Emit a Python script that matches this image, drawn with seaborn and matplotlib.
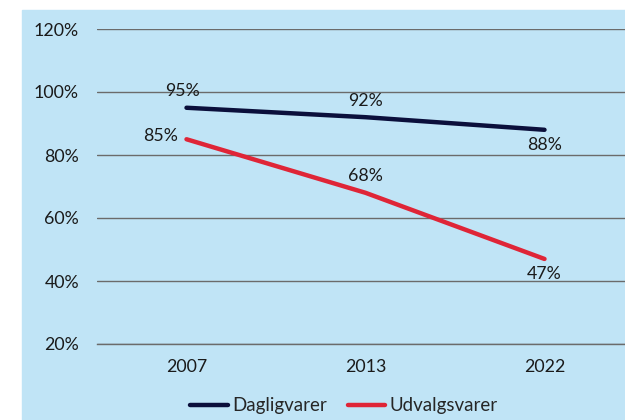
import pandas as pd
import numpy as np
import seaborn as sns
import matplotlib.pyplot as plt
from matplotlib.patches import Rectangle
from matplotlib.ticker import FixedLocator

# data
years = ["2007", "2013", "2022"]
dagligvarer = [95, 92, 88]
udvalgsvarer = [85, 68, 47]
series_names = ["Dagligvarer", "Udvalgsvarer"]
y_ticks = [20, 40, 60, 80, 100, 120]

df = pd.DataFrame({
    "year": years * 2,
    "value": dagligvarer + udvalgsvarer,
    "serie": [series_names[0]] * 3 + [series_names[1]] * 3,
})

sns.set_style("white")
plt.rcParams["font.family"] = ["Lato", "DejaVu Sans"]

bg = "#C0E4F6"
colors = {"Dagligvarer": "#0B0F3B", "Udvalgsvarer": "#DF2537"}
txt = "#1a1a1a"
fs = 12.8

fig = plt.figure(figsize=(6.25, 4.2), dpi=100, facecolor="white")
fig.patches.append(Rectangle((22 / 625, 0), 1, (420 - 10) / 420,
                             transform=fig.transFigure, color=bg, zorder=-1))
ax = fig.add_axes([97 / 625, 1 - 344 / 420, 537 / 625, 315 / 420])
ax.set_facecolor(bg)

sns.lineplot(data=df, x="year", y="value", hue="serie", palette=colors,
             linewidth=3.2, ax=ax, sort=False)

ax.set_xlim(-0.5, 2.5)
ax.set_ylim(20, 120)
ax.set_yticks(y_ticks)
ax.set_yticklabels([f"{v}%" for v in y_ticks])
ax.yaxis.grid(True, color="#6b6b6b", linewidth=1)
ax.set_axisbelow(True)
ax.xaxis.set_minor_locator(FixedLocator([-0.5, 0.5, 1.5, 2.5]))
ax.tick_params(axis="x", which="major", length=0, pad=11, labelsize=fs, colors=txt)
ax.tick_params(axis="x", which="minor", length=5, width=1, color="#6b6b6b", direction="out")
ax.tick_params(axis="y", length=0, pad=13, labelsize=fs, colors=txt)
for s in ["top", "right", "left"]:
    ax.spines[s].set_visible(False)
ax.spines["bottom"].set_color("#6b6b6b")
ax.spines["bottom"].set_linewidth(1)
ax.set_xlabel("")
ax.set_ylabel("")

# data labels
for i, v in enumerate(dagligvarer):
    if i == 0:
        ax.annotate(f"{v}%", (i, v), xytext=(-3, 6), textcoords="offset points",
                    ha="center", va="bottom", fontsize=fs, color=txt)
    elif i == 1:
        ax.annotate(f"{v}%", (i, v), xytext=(0, 6), textcoords="offset points",
                    ha="center", va="bottom", fontsize=fs, color=txt)
    else:
        ax.annotate(f"{v}%", (i, v), xytext=(0, -5), textcoords="offset points",
                    ha="center", va="top", fontsize=fs, color=txt)
for i, v in enumerate(udvalgsvarer):
    if i == 0:
        ax.annotate(f"{v}%", (i, v), xytext=(-6, 2), textcoords="offset points",
                    ha="right", va="center", fontsize=fs, color=txt)
    elif i == 1:
        ax.annotate(f"{v}%", (i, v), xytext=(0, 6), textcoords="offset points",
                    ha="center", va="bottom", fontsize=fs, color=txt)
    else:
        ax.annotate(f"{v}%", (i, v), xytext=(0, -5), textcoords="offset points",
                    ha="center", va="top", fontsize=fs, color=txt)

handles, labels = ax.get_legend_handles_labels()
ax.get_legend().remove()
fig.legend(handles, labels, loc="center", bbox_to_anchor=(344 / 625, 1 - 406 / 420),
           ncol=2, frameon=False, fontsize=13.5, handlelength=2.0, handletextpad=0.25,
           columnspacing=1.1, borderaxespad=0)

fig.savefig("out.png", dpi=100, facecolor="white")
